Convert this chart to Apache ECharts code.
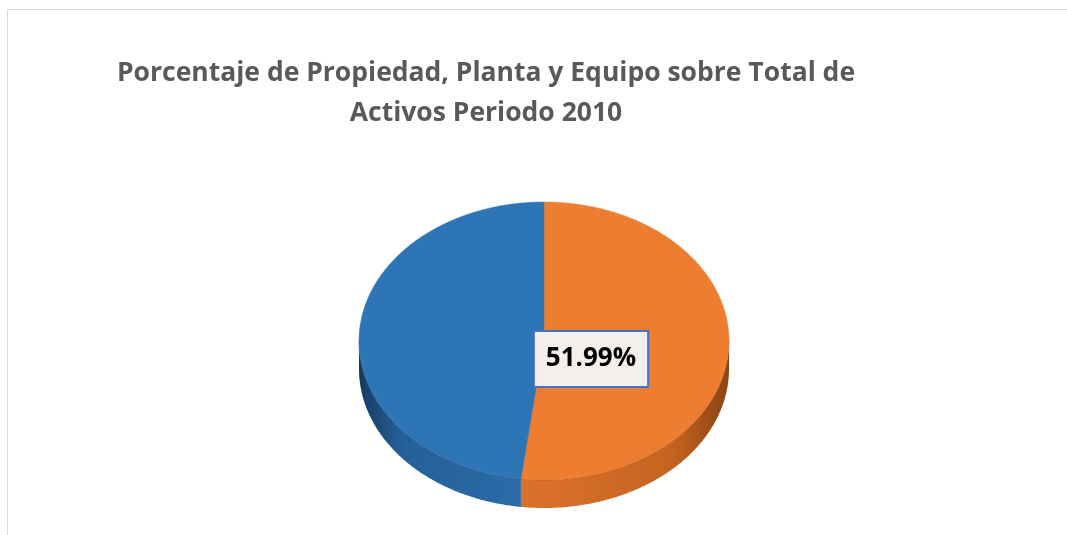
<!DOCTYPE html>
<html>
<head>
<meta charset="utf-8">
<title>Porcentaje de Propiedad, Planta y Equipo</title>
<script src="https://cdn.jsdelivr.net/npm/echarts@6/dist/echarts.min.js"></script>
<style>
  html, body { margin: 0; padding: 0; background: #fff; }
  #chart { width: 1067px; height: 535px; }
</style>
</head>
<body>
<div id="chart"></div>
<script>
// datos del grafico
const categories = ['Propiedad, Planta y Equipo', 'Otros Activos']
const values = [51.99, 48.01]
const showLabel = [true, false]
const colorList = ['#ED7D31', '#2E75B6']
const sideColors = [
  ['#8a4414', '#c4631f', '#d9712b'],
  ['#163b60', '#25609a', '#2c6dab']
]

// geometria del pastel 3D
const cx = 544
const cy = 341
const rx = 185
const ry = 139
const depth = 28

const total = values.reduce((a, b) => a + b, 0)
const startAngles = []
let acc = 0
values.forEach((v) => {
  startAngles.push(-Math.PI / 2 + acc / total * Math.PI * 2)
  acc += v
})

function pt(a, dy) {
  return [cx + rx * Math.cos(a), cy + ry * Math.sin(a) + (dy || 0)]
}

function arcPoints(a1, a2, dy) {
  const pts = []
  const n = Math.max(2, Math.ceil(Math.abs(a2 - a1) / (Math.PI / 360)))
  for (let i = 0; i <= n; i++) {
    pts.push(pt(a1 + (a2 - a1) * i / n, dy))
  }
  return pts
}

function renderSide(params, api) {
  const i = params.dataIndex
  const a1 = startAngles[i]
  const a2 = a1 + api.value(1) / total * Math.PI * 2
  const children = []
  // parte frontal visible: angulos entre 0 y PI (y entre 2PI y 3PI)
  ;[0, Math.PI * 2].forEach((base) => {
    const s = Math.max(a1, base)
    const e = Math.min(a2, base + Math.PI)
    if (e <= s) return
    const top = arcPoints(s, e, 0)
    const bottom = arcPoints(e, s, depth)
    const c = sideColors[i]
    children.push({
      type: 'polygon',
      shape: { points: top.concat(bottom) },
      style: {
        fill: new echarts.graphic.LinearGradient(cx - rx, 0, cx + rx, 0, [
          { offset: 0, color: i === 1 ? c[0] : c[2] },
          { offset: 0.12, color: i === 1 ? c[1] : c[2] },
          { offset: 0.5, color: c[2] },
          { offset: 0.85, color: i === 0 ? c[1] : c[2] },
          { offset: 1, color: i === 0 ? c[0] : c[2] }
        ], true)
      }
    })
    children.push({
      type: 'polyline',
      shape: { points: top },
      style: { fill: null, stroke: 'rgba(60,30,10,0.35)', lineWidth: 1 }
    })
  })
  return { type: 'group', children: children }
}

function renderTop(params, api) {
  const i = params.dataIndex
  const a1 = startAngles[i]
  const frac = api.value(1) / total
  const a2 = a1 + frac * Math.PI * 2
  const children = [{
    type: 'polygon',
    shape: { points: [[cx, cy]].concat(arcPoints(a1, a2, 0)) },
    style: { fill: colorList[i], stroke: colorList[i], lineWidth: 0.5 }
  }]
  if (showLabel[i]) {
    children.push({
      type: 'text',
      x: cx + 47,
      y: cy + 18,
      z2: 100,
      style: {
        text: (frac * 100).toFixed(2) + '%',
        fontFamily: 'Open Sans',
        fontWeight: 'bold',
        fontSize: 26,
        fill: '#000',
        align: 'center',
        verticalAlign: 'middle',
        backgroundColor: '#F4EFEC',
        borderColor: '#4472C4',
        borderWidth: 2,
        padding: [14, 11, 14, 11],
        boxShadowBlur: 6,
        boxShadowColor: 'rgba(0,0,0,0.45)',
        boxShadowOffsetX: 3,
        boxShadowOffsetY: 3
      }
    })
  }
  return { type: 'group', children: children }
}

const seriesData = categories.map((name, i) => ({ name: name, value: [i, values[i]] }))

const chart = echarts.init(document.getElementById('chart'))
chart.setOption({
  backgroundColor: '#fff',
  animation: false,
  title: {
    text: 'Porcentaje de Propiedad, Planta y Equipo sobre Total de\nActivos Periodo 2010',
    left: 486,
    top: 53,
    padding: 0,
    textAlign: 'center',
    textStyle: {
      fontFamily: 'Open Sans',
      fontWeight: 'bold',
      fontSize: 26.5,
      lineHeight: 40,
      color: '#595959'
    }
  },
  graphic: [{
    type: 'rect',
    silent: true,
    shape: { x: 7.5, y: 9.5, width: 2000, height: 2000 },
    style: { fill: null, stroke: '#d9d9d9', lineWidth: 1 }
  }],
  series: [
    {
      type: 'custom',
      coordinateSystem: 'none',
      data: seriesData,
      renderItem: renderSide,
      z: 1
    },
    {
      type: 'custom',
      coordinateSystem: 'none',
      data: seriesData,
      renderItem: renderTop,
      z: 2
    }
  ]
})
</script>
</body>
</html>
